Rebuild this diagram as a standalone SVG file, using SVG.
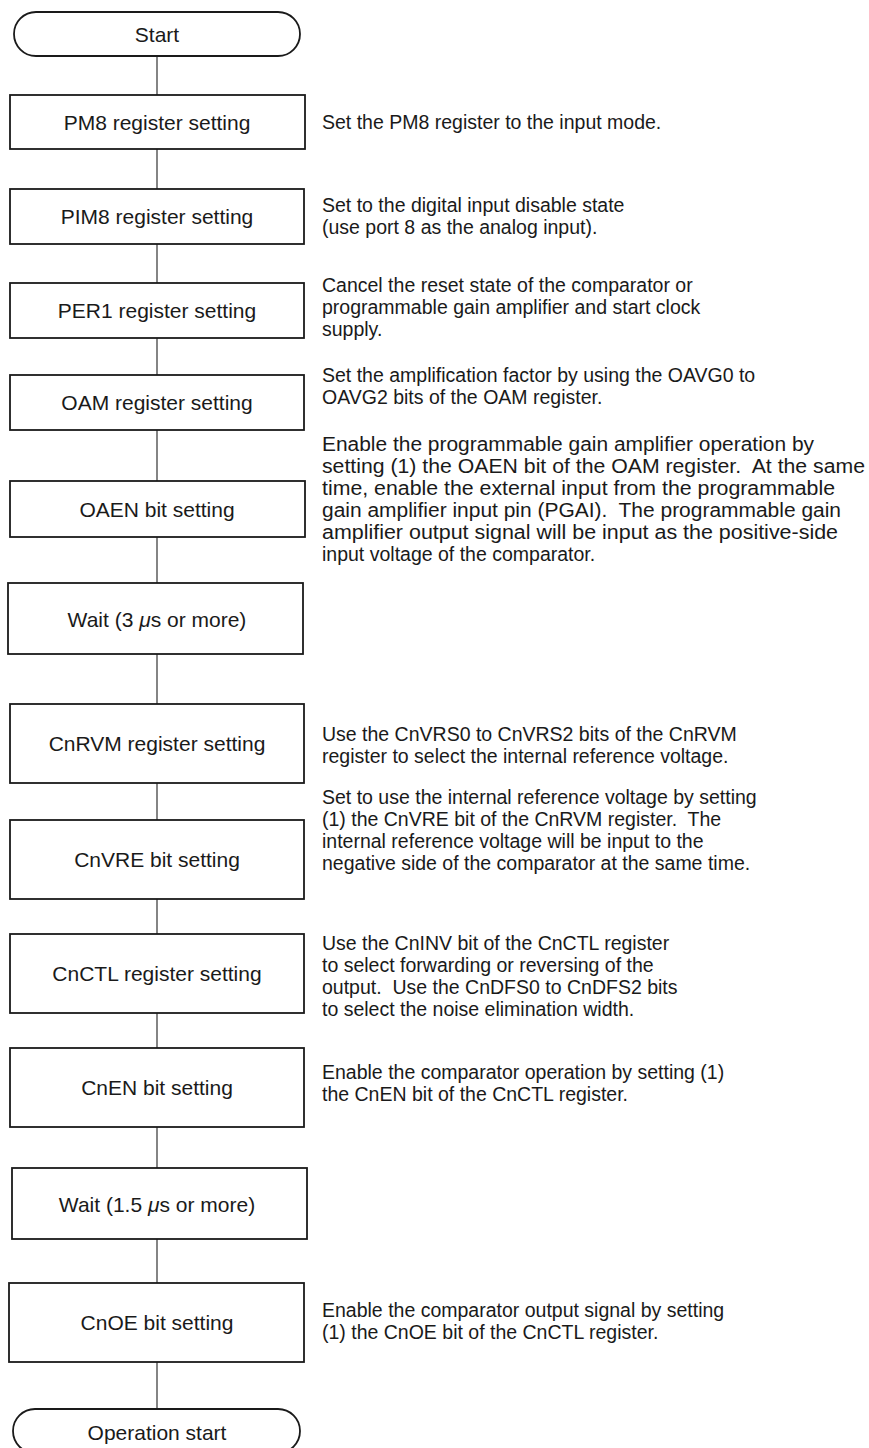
<svg xmlns="http://www.w3.org/2000/svg" width="869" height="1448" viewBox="0 0 869 1448">
<style>
.box{fill:#fff;stroke:#1a1a1a;stroke-width:1.8}
.lbl{font-family:"Liberation Sans",Arial,sans-serif;font-size:21px;fill:#1a1a1a;text-anchor:middle}
.desc{font-family:"Liberation Sans",Arial,sans-serif;font-size:19.5px;fill:#1a1a1a}
.conn line{stroke:#333;stroke-width:1.2}
.mu{font-style:italic}
</style>
<rect width="869" height="1448" fill="#fff"/>
<g class="conn" id="connectors">
<line x1="157" y1="56" x2="157" y2="95"/>
<line x1="157" y1="149" x2="157" y2="189"/>
<line x1="157" y1="244" x2="157" y2="283"/>
<line x1="157" y1="338" x2="157" y2="375"/>
<line x1="157" y1="430" x2="157" y2="481"/>
<line x1="157" y1="537" x2="157" y2="583"/>
<line x1="157" y1="654" x2="157" y2="704"/>
<line x1="157" y1="783" x2="157" y2="820"/>
<line x1="157" y1="899" x2="157" y2="934"/>
<line x1="157" y1="1013" x2="157" y2="1048"/>
<line x1="157" y1="1127" x2="157" y2="1168"/>
<line x1="157" y1="1239" x2="157" y2="1283"/>
<line x1="157" y1="1362" x2="157" y2="1409"/>
</g>
<g id="start">
<rect class="box" x="14" y="12" width="286" height="44" rx="22" ry="22"/>
<text class="lbl" x="157" y="42">Start</text>
</g>
<g id="pm8">
<rect class="box" x="10" y="95" width="295" height="54"/>
<text class="lbl" x="157" y="130">PM8 register setting</text>
<text class="desc" x="322" y="129">Set the PM8 register to the input mode.</text>
</g>
<g id="pim8">
<rect class="box" x="10" y="189" width="294" height="55"/>
<text class="lbl" x="157" y="224">PIM8 register setting</text>
<text class="desc" x="322" y="212">Set to the digital input disable state</text>
<text class="desc" x="322" y="234">(use port 8 as the analog input).</text>
</g>
<g id="per1">
<rect class="box" x="10" y="283" width="294" height="55"/>
<text class="lbl" x="157" y="318">PER1 register setting</text>
<text class="desc" x="322" y="292">Cancel the reset state of the comparator or</text>
<text class="desc" x="322" y="314">programmable gain amplifier and start clock</text>
<text class="desc" x="322" y="336">supply.</text>
</g>
<g id="oam">
<rect class="box" x="10" y="375" width="294" height="55"/>
<text class="lbl" x="157" y="410">OAM register setting</text>
<text class="desc" x="322" y="382">Set the amplification factor by using the OAVG0 to</text>
<text class="desc" x="322" y="404">OAVG2 bits of the OAM register.</text>
</g>
<g id="oaen">
<rect class="box" x="10" y="481" width="295" height="56"/>
<text class="lbl" x="157" y="517">OAEN bit setting</text>
<text class="desc" x="322" y="451" textLength="492" lengthAdjust="spacingAndGlyphs">Enable the programmable gain amplifier operation by</text>
<text class="desc" x="322" y="473" textLength="543" lengthAdjust="spacingAndGlyphs" xml:space="preserve">setting (1) the OAEN bit of the OAM register.  At the same</text>
<text class="desc" x="322" y="495" textLength="513" lengthAdjust="spacingAndGlyphs">time, enable the external input from the programmable</text>
<text class="desc" x="322" y="517" textLength="519" lengthAdjust="spacingAndGlyphs" xml:space="preserve">gain amplifier input pin (PGAI).  The programmable gain</text>
<text class="desc" x="322" y="539" textLength="516" lengthAdjust="spacingAndGlyphs">amplifier output signal will be input as the positive-side</text>
<text class="desc" x="322" y="561">input voltage of the comparator.</text>
</g>
<g id="wait1">
<rect class="box" x="8" y="583" width="295" height="71"/>
<text class="lbl" x="157" y="627" xml:space="preserve">Wait (3 <tspan class="mu">μ</tspan>s or more)</text>
</g>
<g id="cnrvm">
<rect class="box" x="10" y="704" width="294" height="79"/>
<text class="lbl" x="157" y="751">CnRVM register setting</text>
<text class="desc" x="322" y="741">Use the CnVRS0 to CnVRS2 bits of the CnRVM</text>
<text class="desc" x="322" y="763">register to select the internal reference voltage.</text>
</g>
<g id="cnvre">
<rect class="box" x="10" y="820" width="294" height="79"/>
<text class="lbl" x="157" y="867">CnVRE bit setting</text>
<text class="desc" x="322" y="804">Set to use the internal reference voltage by setting</text>
<text class="desc" x="322" y="826" xml:space="preserve">(1) the CnVRE bit of the CnRVM register.  The</text>
<text class="desc" x="322" y="848">internal reference voltage will be input to the</text>
<text class="desc" x="322" y="870">negative side of the comparator at the same time.</text>
</g>
<g id="cnctl">
<rect class="box" x="10" y="934" width="294" height="79"/>
<text class="lbl" x="157" y="981">CnCTL register setting</text>
<text class="desc" x="322" y="950">Use the CnINV bit of the CnCTL register</text>
<text class="desc" x="322" y="972">to select forwarding or reversing of the</text>
<text class="desc" x="322" y="994" xml:space="preserve">output.  Use the CnDFS0 to CnDFS2 bits</text>
<text class="desc" x="322" y="1016">to select the noise elimination width.</text>
</g>
<g id="cnen">
<rect class="box" x="10" y="1048" width="294" height="79"/>
<text class="lbl" x="157" y="1095">CnEN bit setting</text>
<text class="desc" x="322" y="1079">Enable the comparator operation by setting (1)</text>
<text class="desc" x="322" y="1101">the CnEN bit of the CnCTL register.</text>
</g>
<g id="wait2">
<rect class="box" x="12" y="1168" width="295" height="71"/>
<text class="lbl" x="157" y="1212" xml:space="preserve">Wait (1.5 <tspan class="mu">μ</tspan>s or more)</text>
</g>
<g id="cnoe">
<rect class="box" x="9" y="1283" width="295" height="79"/>
<text class="lbl" x="157" y="1330">CnOE bit setting</text>
<text class="desc" x="322" y="1317">Enable the comparator output signal by setting</text>
<text class="desc" x="322" y="1339">(1) the CnOE bit of the CnCTL register.</text>
</g>
<g id="opstart">
<rect class="box" x="13" y="1409" width="287" height="44" rx="22" ry="22"/>
<text class="lbl" x="157" y="1440">Operation start</text>
</g>
</svg>
